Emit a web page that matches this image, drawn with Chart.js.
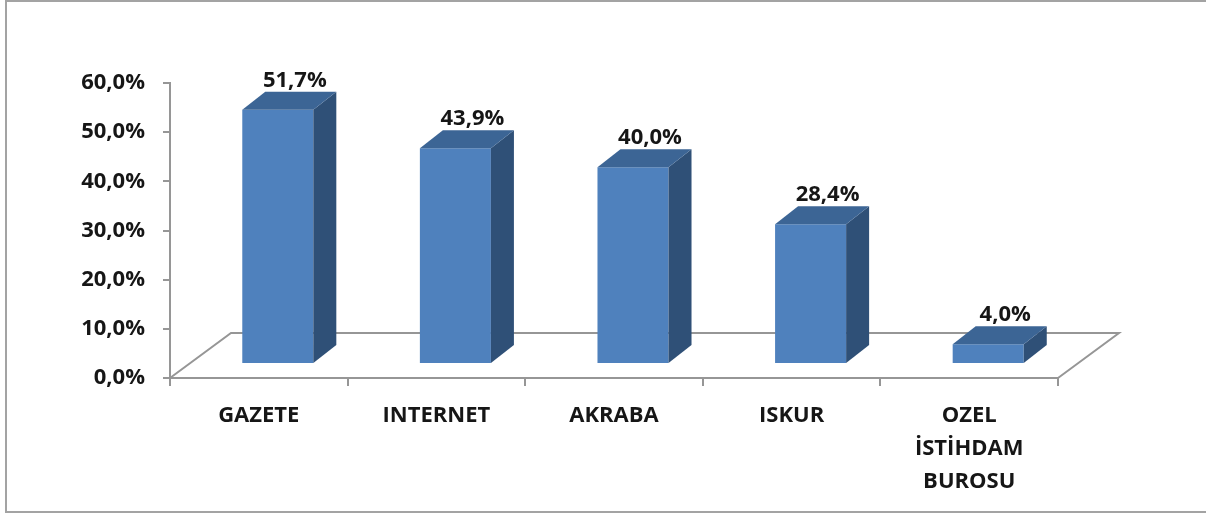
<!DOCTYPE html>
<html>
<head>
<meta charset="utf-8">
<script src="https://cdn.jsdelivr.net/npm/chart.js@4"></script>
<style>
  html, body { margin: 0; padding: 0; background: #fff; }
  #wrap { position: relative; width: 1206px; height: 515px; overflow: hidden; }
  #frame { position: absolute; left: 5px; top: 0; width: 1220px; height: 513px;
           border: 2px solid #a3a3a3; box-sizing: border-box; pointer-events: none; }
  canvas { position: absolute; left: 0; top: 0; }
</style>
</head>
<body>
<div id="wrap">
  <canvas id="chart" width="1206" height="515"></canvas>
  <div id="frame"></div>
</div>
<script>
const categories = ['GAZETE', 'INTERNET', 'AKRABA', 'ISKUR', ['OZEL', 'İSTİHDAM', 'BUROSU']];
const values = [51.7, 43.9, 40.0, 28.4, 4.0];
const yTicks = { min: 0, max: 60, step: 10 };

const AXIS_GREY = '#969696';
const TEXT = '#161616';
const FRONT = '#4f81bd', TOP = '#3c6595', SIDE = '#2f5077';

// 3d look: bars sit a little into the floor, floor has a back edge
const SHIFT = { x: 19, y: -14 };   // front face offset into the floor
const DEPTH = { x: 23, y: -18 };   // bar depth
const FLOOR = { x: 61, y: -45 };   // floor depth

const pct = v => v.toFixed(1).replace('.', ',') + '%';

const bar3d = {
  id: 'bar3d',
  beforeDatasetsDraw(chart) {
    const { ctx, chartArea: a } = chart;
    ctx.save();
    ctx.strokeStyle = AXIS_GREY; ctx.lineWidth = 2;
    ctx.beginPath();
    ctx.moveTo(a.left, a.bottom);
    ctx.lineTo(a.left + FLOOR.x, a.bottom + FLOOR.y);
    ctx.lineTo(a.right + FLOOR.x, a.bottom + FLOOR.y);
    ctx.lineTo(a.right, a.bottom);
    ctx.stroke();
    ctx.restore();
    ctx.save();
    ctx.translate(SHIFT.x, SHIFT.y);
  },
  afterDatasetsDraw(chart) {
    const { ctx } = chart;
    const bars = chart.getDatasetMeta(0).data;
    bars.forEach(b => {
      const l = b.x - b.width / 2, r = b.x + b.width / 2;
      // side face
      ctx.fillStyle = SIDE;
      ctx.beginPath();
      ctx.moveTo(r, b.y); ctx.lineTo(r + DEPTH.x, b.y + DEPTH.y);
      ctx.lineTo(r + DEPTH.x, b.base + DEPTH.y); ctx.lineTo(r, b.base);
      ctx.closePath(); ctx.fill();
      // top face
      ctx.fillStyle = TOP;
      ctx.beginPath();
      ctx.moveTo(l, b.y); ctx.lineTo(l + DEPTH.x, b.y + DEPTH.y);
      ctx.lineTo(r + DEPTH.x, b.y + DEPTH.y); ctx.lineTo(r, b.y);
      ctx.closePath(); ctx.fill();
    });
    ctx.restore();

    // value labels
    ctx.save();
    ctx.font = 'bold 22px "Open Sans"';
    ctx.fillStyle = TEXT;
    ctx.textAlign = 'center';
    ctx.textBaseline = 'alphabetic';
    bars.forEach((b, i) => {
      ctx.fillText(pct(values[i]), b.x + SHIFT.x + 17, b.y + SHIFT.y + DEPTH.y - 5);
    });
    ctx.restore();
  }
};

new Chart(document.getElementById('chart'), {
  type: 'bar',
  data: {
    labels: categories,
    datasets: [{
      data: values,
      backgroundColor: FRONT,
      borderWidth: 0,
      barPercentage: 0.4,
      categoryPercentage: 1
    }]
  },
  options: {
    responsive: false,
    animation: false,
    devicePixelRatio: 1,
    layout: { padding: { top: 83, right: 148, bottom: 0, left: 0 } },
    plugins: { legend: { display: false }, tooltip: { enabled: false } },
    scales: {
      x: {
        afterFit: s => { s.height = 137; },
        grid: { drawOnChartArea: false, offset: true, tickLength: 8, color: AXIS_GREY, lineWidth: 2 },
        border: { color: AXIS_GREY, width: 2 },
        ticks: {
          color: TEXT, padding: 13, maxRotation: 0, autoSkip: false,
          font: { family: 'Open Sans', size: 22, weight: 'bold', lineHeight: 1.5 }
        }
      },
      y: {
        min: yTicks.min, max: yTicks.max,
        afterFit: s => { s.width = 170; },
        grid: { drawOnChartArea: false, tickLength: 7, color: AXIS_GREY, lineWidth: 2 },
        border: { color: AXIS_GREY, width: 2 },
        ticks: {
          stepSize: yTicks.step, color: TEXT, padding: 18,
          font: { family: 'Open Sans', size: 22, weight: 'bold' },
          callback: v => pct(v)
        }
      }
    }
  },
  plugins: [bar3d]
});
</script>
</body>
</html>
